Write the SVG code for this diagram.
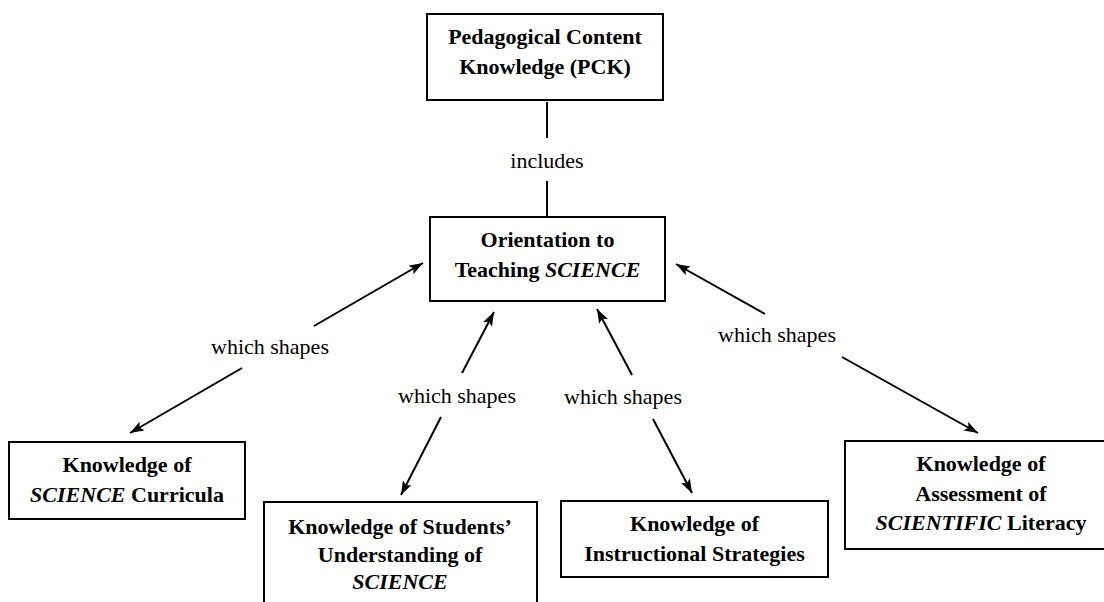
<svg xmlns="http://www.w3.org/2000/svg" width="1104" height="602" viewBox="0 0 1104 602">
<style>
.box{fill:#fff;stroke:#000;stroke-width:2}
.t{font-family:"Liberation Serif","Times New Roman",serif;font-size:22px;font-weight:bold;text-anchor:middle;fill:#000}
.i{font-style:italic}
.lbl{font-family:"Liberation Serif","Times New Roman",serif;font-size:22px;text-anchor:middle;fill:#000}
.c{stroke:#000;stroke-width:2;fill:none}
.a{stroke:#000;stroke-width:2;fill:none;marker-end:url(#ah)}
</style>
<defs>
<marker id="ah" markerUnits="userSpaceOnUse" markerWidth="16" markerHeight="12" refX="14" refY="5" orient="auto">
<path d="M0,0 L14,5 L0,10 L3,5 z" fill="#000"/>
</marker>
</defs>
<rect width="1104" height="602" fill="#fff"/>
<g id="connectors">
<line class="c" x1="547" y1="102" x2="547" y2="138"/>
<line class="c" x1="547" y1="181" x2="547" y2="216"/>
<text class="lbl" x="547" y="168">includes</text>
<line class="a" x1="314" y1="326" x2="423" y2="263"/>
<line class="a" x1="242" y1="368" x2="130" y2="433"/>
<text class="lbl" x="270" y="354">which shapes</text>
<line class="a" x1="462" y1="373" x2="494" y2="312"/>
<line class="a" x1="441" y1="417" x2="401" y2="495"/>
<text class="lbl" x="457" y="403">which shapes</text>
<line class="a" x1="632" y1="375" x2="597" y2="309"/>
<line class="a" x1="653" y1="419" x2="692" y2="493"/>
<text class="lbl" x="623" y="404">which shapes</text>
<line class="a" x1="765" y1="314" x2="676" y2="264"/>
<line class="a" x1="842" y1="357" x2="978" y2="433"/>
<text class="lbl" x="777" y="342">which shapes</text>
</g>
<g id="pck">
<rect class="box" x="427" y="14" width="236" height="86"/>
<text class="t" x="545" y="44">Pedagogical Content</text>
<text class="t" x="545" y="74">Knowledge (PCK)</text>
</g>
<g id="orientation">
<rect class="box" x="430" y="217" width="235" height="84"/>
<text class="t" x="547.5" y="247">Orientation to</text>
<text class="t" x="547.5" y="277">Teaching <tspan class="i">SCIENCE</tspan></text>
</g>
<g id="curricula">
<rect class="box" x="9" y="442" width="236" height="77"/>
<text class="t" x="127" y="472">Knowledge of</text>
<text class="t" x="127" y="502"><tspan class="i">SCIENCE</tspan> Curricula</text>
</g>
<g id="students">
<rect class="box" x="264" y="502" width="273" height="110"/>
<text class="t" x="400" y="534">Knowledge of Students’</text>
<text class="t" x="400" y="561.5">Understanding of</text>
<text class="t i" x="400" y="589">SCIENCE</text>
</g>
<g id="instructional">
<rect class="box" x="561" y="501" width="267" height="76"/>
<text class="t" x="694.5" y="531">Knowledge of</text>
<text class="t" x="694.5" y="561">Instructional Strategies</text>
</g>
<g id="assessment">
<rect class="box" x="845" y="441" width="272" height="108"/>
<text class="t" x="981" y="471">Knowledge of</text>
<text class="t" x="981" y="501">Assessment of</text>
<text class="t" x="981" y="530"><tspan class="i">SCIENTIFIC</tspan> Literacy</text>
</g>
</svg>
